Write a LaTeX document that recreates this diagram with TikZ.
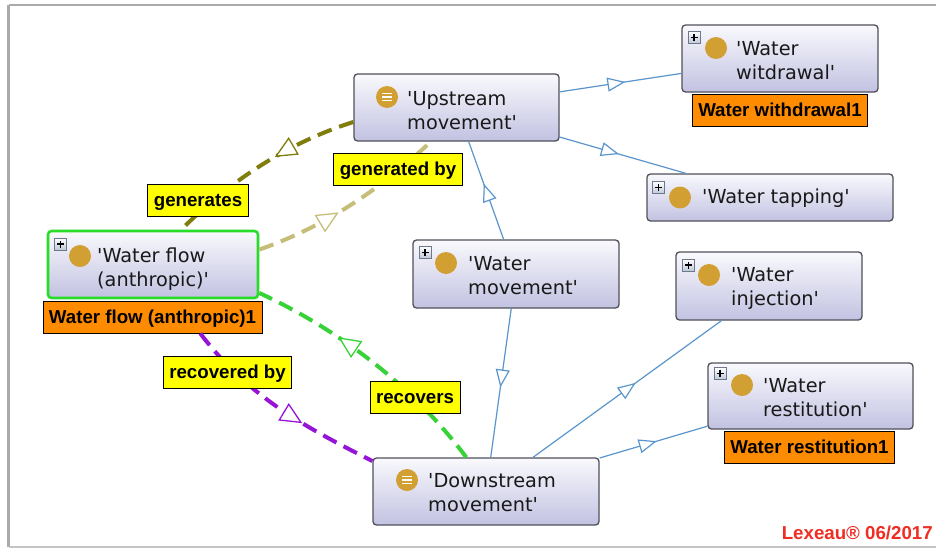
\documentclass[tikz,border=0pt]{standalone}
\usepackage{fontspec}
\setmainfont{DejaVu Sans}
\newfontfamily\tagfont{Liberation Sans}
\usetikzlibrary{arrows.meta,decorations.markings}

\definecolor{clsedge}{RGB}{80,80,90}
\definecolor{clstop}{RGB}{249,249,253}
\definecolor{clsbot}{RGB}{194,194,226}
\definecolor{clstext}{RGB}{25,25,25}
\definecolor{icongold}{RGB}{210,160,50}
\definecolor{pboxedge}{RGB}{110,120,140}
\definecolor{pboxbot}{RGB}{190,200,215}
\definecolor{subblue}{RGB}{90,150,205}
\definecolor{genclr}{RGB}{128,125,10}
\definecolor{genbyclr}{RGB}{198,190,120}
\definecolor{recclr}{RGB}{55,210,55}
\definecolor{recbyclr}{RGB}{150,20,215}
\definecolor{wfgreen}{RGB}{40,220,40}
\definecolor{tagyellow}{RGB}{255,255,0}
\definecolor{tagorange}{RGB}{255,140,0}
\definecolor{copyred}{RGB}{240,45,35}
\definecolor{framegray}{RGB}{170,170,170}

\newcommand{\aps}{\textquotesingle}
\newcommand{\firstline}{\rule{0pt}{15pt}}

\tikzset{
  cls/.style={draw=clsedge, line width=1.3pt, rounded corners=3.5pt,
    top color=clstop, bottom color=clsbot, inner sep=0pt},
  dot/.style={circle, fill=icongold, minimum size=22pt, inner sep=0pt},
  eqdot/.style={dot, path picture={
    \foreach \yy in {-3.8,0,3.8}
      \draw[white, line width=1.3pt]
        ([shift={(-5pt,\yy pt)}]path picture bounding box.center) --
        ([shift={(5pt,\yy pt)}]path picture bounding box.center);}},
  pbox/.style={draw=pboxedge, line width=0.6pt, top color=white,
    bottom color=pboxbot, minimum size=12pt, inner sep=0pt,
    path picture={
      \draw[black, line width=1.1pt]
        ([xshift=-3.5pt]path picture bounding box.center) --
        ([xshift=3.5pt]path picture bounding box.center);
      \draw[black, line width=1.1pt]
        ([yshift=-3.5pt]path picture bounding box.center) --
        ([yshift=3.5pt]path picture bounding box.center);}},
  ctext/.style={anchor=north west, inner sep=0pt, align=left, text=clstext,
    font=\fontsize{19.3}{24}\selectfont},
  tagbox/.style={draw=black, line width=0.9pt, inner xsep=6pt, inner ysep=0pt,
    minimum height=32pt, text height=13.4pt, text depth=0pt,
    font=\tagfont\bfseries\fontsize{18.7}{20}\selectfont},
  ytag/.style={tagbox, fill=tagyellow},
  otag/.style={tagbox, fill=tagorange},
  subedge/.style={draw=subblue, line width=1.2pt, postaction={decorate},
    decoration={markings, mark=at position #1 with
      {\arrow[solid, line width=1.2pt]{Triangle[fill=white, length=18pt, width=14pt]}}}},
  propedge/.style 2 args={draw=#1, line width=4pt, dash pattern=on 15pt off 8pt,
    postaction={decorate},
    decoration={markings, mark=at position #2 with
      {\arrow[solid, line width=1.3pt]{Triangle[fill=white, length=22pt, width=20pt]}}}},
}

\begin{document}
\begin{tikzpicture}[x=1pt,y=-1pt]
\useasboundingbox (0,0) rectangle (936,549);
\fill[white] (0,0) rectangle (936,549);
% window frame
\draw[framegray, line width=1.6pt] (945,5) -- (8.5,5);
\draw[framegray, line width=2.4pt] (8.5,5) -- (8.5,547);
\draw[framegray!70, line width=1.4pt] (8.5,547) -- (945,547);

% class boxes
\node[cls, minimum width=205pt, minimum height=67pt] (up)  at (456.5,107.5) {};
\node[cls, minimum width=196pt, minimum height=67pt] (wd)  at (780,58.5) {};
\node[cls, minimum width=246pt, minimum height=47pt] (tap) at (770,197.5) {};
\node[cls, draw=wfgreen, line width=2.6pt, minimum width=210pt, minimum height=67pt] (wf) at (153,264.5) {};
\node[cls, minimum width=206pt, minimum height=68pt] (wm)  at (516,274) {};
\node[cls, minimum width=186pt, minimum height=68pt] (inj) at (769,286) {};
\node[cls, minimum width=205pt, minimum height=66pt] (res) at (810.5,396) {};
\node[cls, minimum width=226pt, minimum height=67pt] (dn)  at (486,491.5) {};

% expand buttons
\node[pbox] (wd-p)  at (694,37.5) {};
\node[pbox] (tap-p) at (658.5,187.5) {};
\node[pbox] (wf-p)  at (60.5,244) {};
\node[pbox] (wm-p)  at (425,252.5) {};
\node[pbox] (inj-p) at (688.5,265) {};
\node[pbox] (res-p) at (720,373.5) {};

% class icons
\node[eqdot] (up-i) at (387,97) {};
\node[dot] (wd-i)  at (716,48) {};
\node[dot] (tap-i) at (680,197.5) {};
\node[dot] (wf-i)  at (80,256) {};
\node[dot] (wm-i)  at (446,263) {};
\node[dot] (inj-i) at (709,275) {};
\node[dot] (res-i) at (742,385) {};
\node[eqdot] (dn-i) at (407,480) {};

% class names
\node[ctext] (up-t)  at (407,90)  {\firstline\aps Upstream\\movement\aps};
\node[ctext] (wd-t)  at (736,40)  {\firstline\aps Water\\witdrawal\aps};
\node[ctext] (tap-t) at (702,188) {\firstline\aps Water tapping\aps};
\node[ctext] (wf-t)  at (97,247)  {\firstline\aps Water flow\\(anthropic)\aps};
\node[ctext] (wm-t)  at (468,255) {\firstline\aps Water\\movement\aps};
\node[ctext] (inj-t) at (731,266) {\firstline\aps Water\\injection\aps};
\node[ctext] (res-t) at (763,377) {\firstline\aps Water\\restitution\aps};
\node[ctext] (dn-t)  at (428,472) {\firstline\aps Downstream\\movement\aps};

% individual labels
\node[otag] (wd-l)  at (780,110)   {Water withdrawal1};
\node[otag] (wf-l)  at (152.5,317) {Water flow (anthropic)1};
\node[otag] (res-l) at (809.5,447) {Water restitution1};

% subclass links
\draw[subedge=0.54] (up) -- (wd);
\draw[subedge=0.47] (up) -- (tap);
\draw[subedge=0.57] (wm) -- (up);
\draw[subedge=0.53] (wm) -- (dn);
\draw[subedge=0.545] (dn) -- (inj);
\draw[subedge=0.53] (dn) -- (res);

% object property links
\draw[propedge={genclr}{0.42}] (up.188) .. controls (287,143) and (229.5,181.5) .. (wf.51);
\draw[propedge={genbyclr}{0.43}] (wf.8) .. controls (324,227) and (380,190) .. (up.233);
\draw[propedge={recclr}{0.66}] (dn.120) .. controls (413,386) and (339.5,330) .. (wf.-15);
\draw[propedge={recbyclr}{0.632}] (wf-l.-19.4) .. controls (247.7,395.7) and (301.8,425.4) .. (dn.165);

% property labels
\node[ytag] (gen)   at (198,200)   {generates};
\node[ytag] (genby) at (398,169)   {generated by};
\node[ytag] (recby) at (227.5,372) {recovered by};
\node[ytag] (rec)   at (415,397)   {recovers};

% signature
\node[anchor=base east, inner sep=0pt, text=copyred,
      font=\tagfont\bfseries\fontsize{18.7}{20}\selectfont] (sig) at (933,539) {Lexeau® 06/2017};
\end{tikzpicture}
\end{document}
